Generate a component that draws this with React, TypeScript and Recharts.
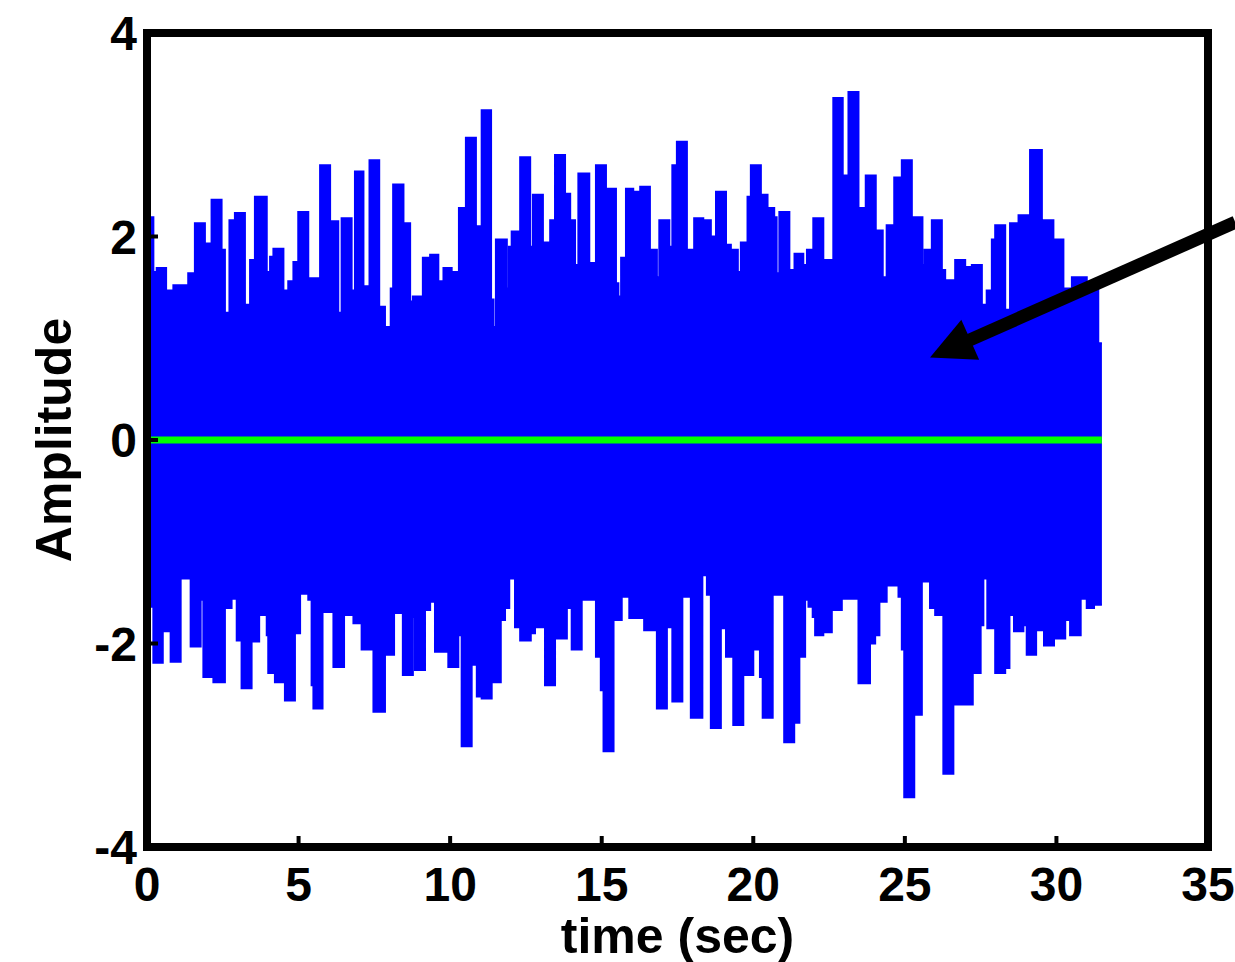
import { ComposedChart, Area, Line, XAxis, YAxis, ReferenceLine } from "recharts";

const xTicks = [0, 5, 10, 15, 20, 25, 30, 35];
const yTicks = [-4, -2, 0, 2, 4];
const signalEnd = 31.5;

// [time (sec), amplitude] step points of the blue trace, top edge
const upperSteps: [number, number][] = [
  [0.0, 2.19], [0.21, 1.65], [0.32, 1.69], [0.63, 1.47], [0.87, 1.52], [1.36, 1.64],
  [1.58, 2.13], [1.91, 1.93], [2.08, 1.57], [2.13, 2.36], [2.46, 1.87], [2.57, 1.25],
  [2.72, 2.16], [2.9, 2.23], [3.23, 1.33], [3.4, 1.77], [3.56, 2.39], [3.95, 1.65],
  [4.06, 1.8], [4.17, 1.88], [4.5, 1.47], [4.66, 1.56], [4.83, 1.75], [4.99, 2.24],
  [5.32, 1.59], [5.71, 2.7], [6.04, 2.15], [6.31, 1.25], [6.42, 2.18], [6.75, 1.47],
  [6.86, 2.64], [7.14, 1.51], [7.34, 2.75], [7.66, 1.31], [7.85, 1.11], [8.04, 1.49],
  [8.12, 2.51], [8.46, 2.13], [8.68, 1.36], [8.77, 1.41], [9.1, 1.79], [9.34, 1.82],
  [9.61, 1.56], [9.78, 1.69], [10.05, 1.65], [10.29, 2.28], [10.52, 2.97], [10.85, 2.1],
  [11.04, 3.24], [11.35, 1.38], [11.43, 1.11], [11.51, 1.97], [11.87, 1.49], [11.94, 1.9],
  [12.03, 2.05], [12.31, 2.78], [12.64, 1.9], [12.73, 2.41], [13.06, 1.94], [13.3, 2.16],
  [13.46, 2.8], [13.79, 2.42], [13.96, 2.16], [14.12, 1.72], [14.23, 2.62], [14.59, 1.74],
  [14.81, 2.7], [15.14, 2.47], [15.47, 1.54], [15.55, 1.41], [15.64, 1.79], [15.8, 2.47],
  [16.04, 2.44], [16.27, 2.49], [16.59, 1.87], [16.82, 1.6], [16.9, 2.16], [17.23, 1.9],
  [17.33, 2.7], [17.48, 2.93], [17.81, 1.87], [18.05, 2.18], [18.35, 2.16], [18.6, 2.0],
  [18.77, 2.44], [19.1, 1.92], [19.26, 1.87], [19.49, 1.65], [19.59, 1.94], [19.81, 2.39],
  [19.92, 2.7], [20.25, 2.41], [20.47, 2.28], [20.69, 2.19], [20.77, 1.64], [20.86, 2.24],
  [21.19, 1.67], [21.36, 1.83], [21.65, 1.72], [21.77, 1.87], [21.98, 2.18], [22.31, 1.77],
  [22.59, 1.25], [22.64, 3.36], [22.95, 2.6], [23.14, 3.42], [23.47, 2.11], [23.52, 2.28],
  [23.71, 2.6], [24.04, 2.06], [24.27, 1.6], [24.4, 2.11], [24.65, 2.58], [24.9, 2.75],
  [25.23, 2.19], [25.58, 1.72], [25.65, 1.87], [25.89, 2.16], [26.22, 1.67], [26.33, 1.57],
  [26.6, 1.49], [26.66, 1.77], [26.99, 1.7], [27.21, 1.72], [27.54, 1.33], [27.7, 1.47],
  [27.87, 1.97], [27.98, 2.11], [28.31, 1.28], [28.47, 2.13], [28.75, 2.21], [29.13, 2.85],
  [29.52, 1.36], [29.57, 2.16], [29.9, 1.97], [30.23, 1.49], [30.51, 1.6], [31.0, 1.55],
  [31.38, 0.95],
];

// bottom edge of the blue trace
const lowerSteps: [number, number][] = [
  [0.0, -1.64], [0.21, -2.19], [0.52, -1.88], [0.78, -2.18], [1.11, -1.36], [1.44, -2.03],
  [1.77, -1.57], [1.86, -2.33], [2.19, -2.38], [2.57, -1.65], [2.79, -1.56], [2.96, -1.97],
  [3.12, -2.44], [3.45, -1.98], [3.7, -1.72], [3.95, -1.92], [4.0, -2.29], [4.22, -2.38],
  [4.55, -2.56], [4.88, -1.9], [5.05, -1.51], [5.32, -1.57], [5.43, -2.41], [5.49, -2.64],
  [5.79, -1.69], [6.15, -2.23], [6.5, -1.72], [6.81, -1.8], [7.08, -2.06], [7.47, -2.67],
  [7.85, -2.11], [8.15, -1.7], [8.44, -2.31], [8.77, -1.74], [8.84, -2.26], [9.17, -1.67],
  [9.34, -1.59], [9.5, -2.08], [9.94, -2.23], [10.27, -1.92], [10.38, -3.01], [10.71, -2.21],
  [10.88, -2.52], [11.04, -2.54], [11.37, -2.38], [11.67, -1.77], [11.81, -1.65], [11.95, -1.36],
  [12.14, -1.84], [12.31, -1.97], [12.66, -1.9], [12.8, -1.84], [13.13, -2.41], [13.46, -1.95],
  [13.85, -1.65], [14.01, -2.06], [14.34, -1.57], [14.81, -2.13], [14.97, -2.46], [15.06, -3.06],
  [15.39, -1.77], [15.66, -1.54], [15.91, -1.75], [16.4, -1.87], [16.82, -2.64], [17.15, -1.84],
  [17.33, -2.57], [17.66, -1.54], [17.94, -2.73], [18.32, -1.33], [18.47, -1.52], [18.6, -2.83],
  [18.93, -1.85], [19.1, -2.13], [19.34, -2.8], [19.67, -2.31], [20.0, -2.06], [20.22, -2.33],
  [20.31, -2.73], [20.64, -1.52], [21.02, -2.97], [21.35, -2.78], [21.52, -2.13], [21.71, -1.57],
  [21.82, -1.64], [21.96, -1.74], [22.04, -1.92], [22.31, -1.89], [22.59, -1.67], [22.92, -1.56],
  [23.47, -2.39], [23.85, -2.0], [24.02, -1.92], [24.16, -1.59], [24.4, -1.43], [24.79, -1.54],
  [24.9, -2.06], [24.98, -3.51], [25.31, -2.7], [25.56, -1.39], [25.83, -1.65], [26.0, -1.72],
  [26.27, -3.28], [26.6, -2.6], [27.24, -2.29], [27.5, -1.82], [27.59, -1.36], [27.72, -1.85],
  [27.98, -2.29], [28.31, -2.24], [28.45, -1.72], [28.6, -1.88], [28.91, -1.82], [29.02, -2.11],
  [29.33, -1.87], [29.59, -2.02], [29.92, -1.95], [30.29, -1.77], [30.45, -1.92], [30.8, -1.56],
  [31.0, -1.65], [31.24, -1.62],
];

const zeroLine = [0, signalEnd];

// annotation arrow, from the right edge to its tip (data units)
const arrowStart = { x: 35.9, y: 2.14 };
const arrowTip = { x: 25.83, y: 0.81 };

const toRows = (steps: [number, number][]) =>
  [...steps, [signalEnd, steps[steps.length - 1][1]] as [number, number]].map(([t, v]) => ({ t, v }));

const upperData = toRows(upperSteps);
const lowerData = toRows(lowerSteps);
const zeroData = zeroLine.map((t) => ({ t, v: 0 }));

const font = "'Liberation Sans', Arial, Helvetica, sans-serif";
const tickStyle = { fontFamily: font, fontWeight: 700, fontSize: 48, fill: "#000" };
const frame = { stroke: "#000", strokeWidth: 8, strokeLinecap: "square" as const };
const tickMark = { stroke: "#000", strokeWidth: 4 };

function Arrow(props: any) {
  const { x1, y1, x2, y2 } = props;
  const dx = x2 - x1;
  const dy = y2 - y1;
  const len = Math.hypot(dx, dy);
  const ux = dx / len;
  const uy = dy / len;
  const headLen = 44;
  const half = 22;
  const bx = x2 - ux * headLen;
  const by = y2 - uy * headLen;
  const pts = `${x2},${y2} ${bx - uy * half},${by + ux * half} ${bx + uy * half},${by - ux * half}`;
  return (
    <g>
      <line x1={x1} y1={y1} x2={bx + ux * 4} y2={by + uy * 4} stroke="#000" strokeWidth={13} />
      <polygon points={pts} fill="#000" />
    </g>
  );
}

export default function App() {
  return (
    <div style={{ position: "absolute", left: 0, top: 0, background: "#fff" }}>
      <ComposedChart width={1235} height={962} margin={{ top: 28, right: 22, left: 47, bottom: 55 }}>
        <XAxis
          dataKey="t"
          type="number"
          domain={[0, 35]}
          ticks={xTicks}
          allowDataOverflow
          height={60}
          axisLine={frame}
          tickLine={tickMark}
          tickSize={-11}
          tickMargin={31}
          tick={tickStyle}
          interval={0}
          label={{
            value: "time (sec)",
            position: "bottom",
            offset: 10,
            style: { fontFamily: font, fontWeight: 700, fontSize: 50, fill: "#000" },
          }}
        />
        <XAxis
          xAxisId="top"
          orientation="top"
          dataKey="t"
          type="number"
          domain={[0, 35]}
          ticks={xTicks}
          height={5}
          axisLine={frame}
          tickLine={tickMark}
          tickSize={-11}
          tickFormatter={() => ""}
          interval={0}
        />
        <YAxis
          type="number"
          domain={[-4, 4]}
          ticks={yTicks}
          allowDataOverflow
          width={100}
          axisLine={frame}
          tickLine={tickMark}
          tickSize={-11}
          tickMargin={21}
          tick={tickStyle}
          interval={0}
          label={{
            value: "Amplitude",
            angle: -90,
            position: "insideLeft",
            offset: 6,
            style: { fontFamily: font, fontWeight: 700, fontSize: 50, fill: "#000", textAnchor: "middle" },
          }}
        />
        <YAxis
          yAxisId="right"
          orientation="right"
          type="number"
          domain={[-4, 4]}
          ticks={yTicks}
          width={5}
          axisLine={frame}
          tickLine={tickMark}
          tickSize={-11}
          tickFormatter={() => ""}
          interval={0}
        />
        <Area
          data={upperData}
          dataKey="v"
          type="stepAfter"
          baseValue={0}
          stroke="#0000ff"
          strokeWidth={2}
          fill="#0000ff"
          fillOpacity={1}
          isAnimationActive={false}
        />
        <Area
          data={lowerData}
          dataKey="v"
          type="stepAfter"
          baseValue={0}
          stroke="#0000ff"
          strokeWidth={2}
          fill="#0000ff"
          fillOpacity={1}
          isAnimationActive={false}
        />
        <Line
          data={zeroData}
          dataKey="v"
          stroke="#00ff00"
          strokeWidth={7}
          dot={false}
          isAnimationActive={false}
        />
        <ReferenceLine
          segment={[arrowStart, arrowTip]}
          ifOverflow="visible"
          shape={Arrow}
        />
      </ComposedChart>
    </div>
  );
}
